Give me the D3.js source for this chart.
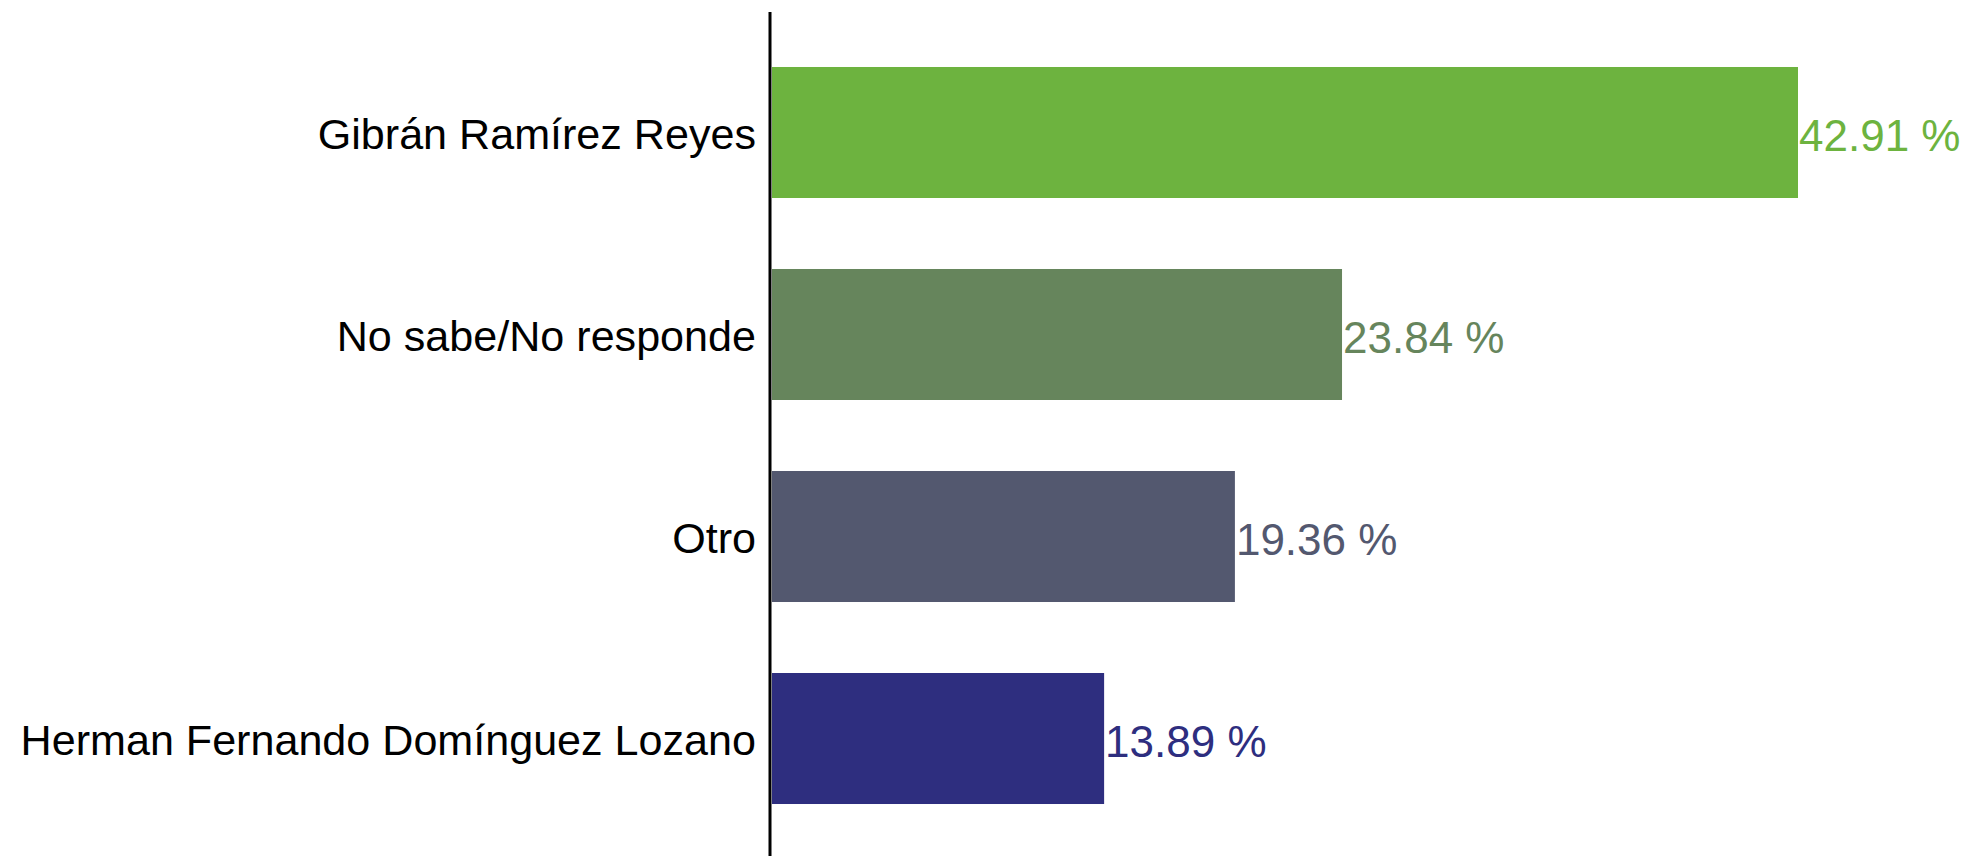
<!DOCTYPE html>
<html>
<head>
<meta charset="utf-8">
<script src="https://cdn.jsdelivr.net/npm/d3@7"></script>
<style>
  html, body { margin: 0; padding: 0; background: #ffffff; }
  svg { display: block; }
</style>
</head>
<body>
<svg id="chart" width="1967" height="856"></svg>
<script>
const categories = ["Gibrán Ramírez Reyes", "No sabe/No responde", "Otro", "Herman Fernando Domínguez Lozano"];
const values = [42.91, 23.84, 19.36, 13.89];
const colors = ["#6db33f", "#66855c", "#53586f", "#2e2e7f"];
const valueLabels = ["42.91 %", "23.84 %", "19.36 %", "13.89 %"];

const svg = d3.select("#chart");
const fontFamily = "'Liberation Sans', Arial, sans-serif";

const axisX = 770;
const x = d3.scaleLinear().domain([0, d3.max(values)]).range([772, 1798]);
const y = d3.scaleBand().domain(categories).range([31.5, 839.5])
  .paddingInner(0.3515).paddingOuter(0.1757);

const data = categories.map((c, i) => ({c, v: values[i], col: colors[i], lab: valueLabels[i]}));

svg.selectAll("rect.bar").data(data).enter().append("rect")
  .attr("class", "bar")
  .attr("x", x(0))
  .attr("y", d => y(d.c))
  .attr("width", d => x(d.v) - x(0))
  .attr("height", y.bandwidth())
  .attr("fill", d => d.col);

svg.selectAll("text.val").data(data).enter().append("text")
  .attr("class", "val")
  .attr("x", d => x(d.v) + 1)
  .attr("y", d => y(d.c) + y.bandwidth() / 2 + 3)
  .attr("dy", "0.36em")
  .attr("fill", d => d.col)
  .style("font-family", fontFamily)
  .style("font-size", "44px")
  .text(d => d.lab);

const yAxis = d3.axisLeft(y).tickSize(0).tickPadding(14);
const gy = svg.append("g").attr("transform", `translate(${axisX},3)`).call(yAxis);
gy.select(".domain").remove();
gy.selectAll("text")
  .attr("fill", "#000")
  .style("font-family", fontFamily)
  .style("font-size", "43.1px");

svg.append("line")
  .attr("x1", axisX).attr("x2", axisX)
  .attr("y1", 12).attr("y2", 856)
  .attr("stroke", "#000").attr("stroke-width", 3);
</script>
</body>
</html>
